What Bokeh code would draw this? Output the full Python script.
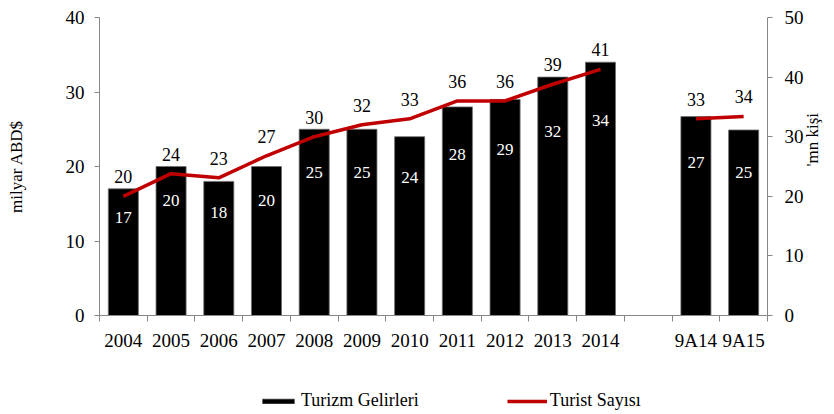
import math
from bokeh.plotting import figure
from bokeh.layouts import column
from bokeh.models import (Range1d, LinearAxis, FixedTicker, Legend, LegendItem,
                          ColumnDataSource)
from bokeh.embed import file_html
from bokeh.resources import INLINE
from bokeh.core.properties import value

# ---- data ----
categories = ["2004", "2005", "2006", "2007", "2008", "2009", "2010", "2011",
              "2012", "2013", "2014", "", "9A14", "9A15"]
revenue = [17, 20, 18, 20, 25, 25, 24, 28, 29, 32, 34, None, 26.7, 24.9]
revenue_labels = ["17", "20", "18", "20", "25", "25", "24", "28", "29", "32", "34", "", "27", "25"]
tourists = [20, 23.8, 23.1, 26.8, 30, 32, 33, 36, 36, 38.8, 41.3, None, 33, 33.4]
tourist_labels = ["20", "24", "23", "27", "30", "32", "33", "36", "36", "39", "41", "", "33", "34"]
left_ticks = [0, 10, 20, 30, 40]
right_ticks = [0, 10, 20, 30, 40, 50]
series_names = ["Turizm Gelirleri", "Turist Sayısı"]
left_title = "milyar ABD$"
right_title = "'mn kişi"

FONT = "Liberation Serif"
AXIS_GRAY = "#878787"
RED = "#C00000"
BAR_STYLE = dict(fill_color="black", line_color="#6e6e6e", line_width=0.8)
LINE_STYLE = dict(line_color=RED, line_width=3.5)

idx = list(range(len(categories)))
bar_src = ColumnDataSource(dict(
    x=[i for i in idx if revenue[i] is not None],
    top=[revenue[i] for i in idx if revenue[i] is not None],
    lab=[revenue_labels[i] for i in idx if revenue[i] is not None],
    ly=[revenue[i] * 0.77 for i in idx if revenue[i] is not None],
))
line_src = ColumnDataSource(dict(
    x=idx,
    y=[float("nan") if v is None else v for v in tourists],
))
tl_src = ColumnDataSource(dict(
    x=[i for i in idx if tourists[i] is not None],
    y=[tourists[i] for i in idx if tourists[i] is not None],
    lab=[tourist_labels[i] for i in idx if tourists[i] is not None],
))

p = figure(width=834, height=368, output_backend="svg", toolbar_location=None,
           x_range=Range1d(-0.5, len(categories) - 0.5), y_range=Range1d(0, 40),
           min_border_left=99, min_border_right=62, min_border_top=17, min_border_bottom=53)
p.extra_y_ranges = {"right": Range1d(0, 50)}
p.outline_line_color = None
p.xgrid.visible = False
p.ygrid.visible = False

p.vbar(x="x", top="top", width=0.63, source=bar_src, **BAR_STYLE)
p.line(x="x", y="y", source=line_src, y_range_name="right", **LINE_STYLE)

p.text(x="x", y="ly", text="lab", source=bar_src, text_color="white",
       text_font=value(FONT), text_font_size="17px", text_align="center",
       text_baseline="middle")
p.text(x="x", y="y", text="lab", source=tl_src, y_range_name="right",
       text_color="black", text_font=value(FONT), text_font_size="18px",
       text_align="center", text_baseline="bottom", y_offset=-13)

# x axis: labels at centers, ticks at boundaries
xa = p.xaxis[0]
xa.ticker = FixedTicker(ticks=idx, minor_ticks=[i - 0.5 for i in range(len(categories) + 1)])
xa.major_label_overrides = {i: c for i, c in enumerate(categories)}
xa.major_tick_out = 0
xa.major_tick_in = 0
xa.minor_tick_out = 6
xa.minor_tick_in = 0
xa.minor_tick_line_color = AXIS_GRAY
xa.axis_line_color = AXIS_GRAY
xa.major_label_text_font = FONT
xa.major_label_text_font_size = "19px"
xa.major_label_text_color = "black"
xa.major_label_standoff = 8

ya = p.yaxis[0]
ya.ticker = FixedTicker(ticks=left_ticks)
ya.minor_tick_line_color = None
ya.major_tick_out = 5
ya.major_tick_in = 0
ya.major_tick_line_color = AXIS_GRAY
ya.axis_line_color = AXIS_GRAY
ya.major_label_text_font = FONT
ya.major_label_text_font_size = "19px"
ya.major_label_text_color = "black"
ya.major_label_standoff = 10
ya.axis_label = left_title
ya.axis_label_text_font = FONT
ya.axis_label_text_font_size = "17px"
ya.axis_label_text_font_style = "normal"
ya.axis_label_text_color = "black"
ya.axis_label_standoff = 37

ra = LinearAxis(y_range_name="right", ticker=FixedTicker(ticks=right_ticks))
ra.minor_tick_line_color = None
ra.major_tick_out = 5
ra.major_tick_in = 0
ra.major_tick_line_color = AXIS_GRAY
ra.axis_line_color = AXIS_GRAY
ra.major_label_text_font = FONT
ra.major_label_text_font_size = "19px"
ra.major_label_text_color = "black"
ra.major_label_standoff = 12
p.add_layout(ra, "right")

# right-hand title, reading bottom-to-top
rt = LinearAxis(y_range_name="right", ticker=FixedTicker(ticks=[]), bounds=(44.8, 50))
rt.axis_line_color = None
rt.major_tick_line_color = None
rt.minor_tick_line_color = None
rt.axis_label = right_title
rt.axis_label_text_font = FONT
rt.axis_label_text_font_size = "17px"
rt.axis_label_text_font_style = "normal"
rt.axis_label_text_color = "black"
rt.axis_label_standoff = 6
try:
    rt.axis_label_orientation = math.pi / 2
except Exception:
    pass
p.add_layout(rt, "right")

# legend strip below the chart
lg = figure(width=834, height=46, output_backend="svg", toolbar_location=None,
            x_range=Range1d(0, 1), y_range=Range1d(0, 1),
            min_border=0, outline_line_color=None)
lg.axis.visible = False
lg.grid.visible = False
nan = float("nan")
empty = ColumnDataSource(dict(x=[nan], y=[nan], top=[nan]))
r_bar = lg.vbar(x="x", top="top", width=0.5, source=empty, **BAR_STYLE)
r_line = lg.line(x="x", y="y", source=empty, **LINE_STYLE)
legend = Legend(items=[LegendItem(label=series_names[0], renderers=[r_bar]),
                       LegendItem(label=series_names[1], renderers=[r_line])],
                orientation="horizontal", location=(159, 3),
                glyph_width=40, glyph_height=6, label_height=14, label_standoff=3,
                spacing=88, padding=0, margin=0,
                border_line_alpha=0, background_fill_alpha=0,
                label_text_font=FONT, label_text_font_size="18px",
                label_text_color="black")
lg.add_layout(legend, "center")

layout = column(p, lg, spacing=0)
open("out.html", "w").write(file_html(layout, INLINE))
